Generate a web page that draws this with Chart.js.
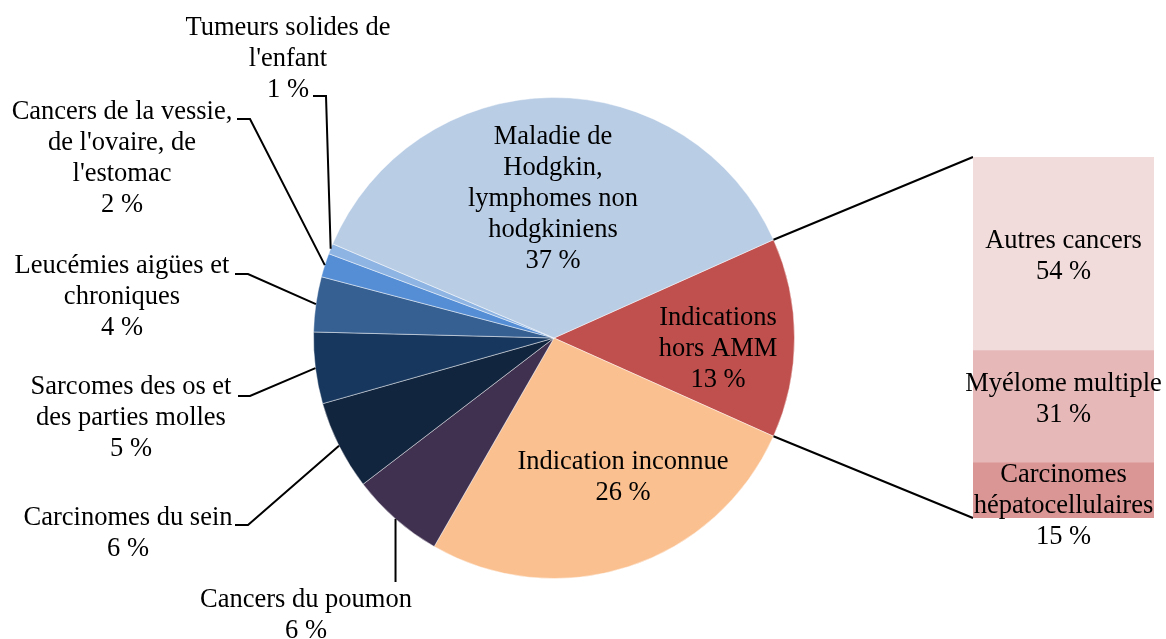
<!DOCTYPE html>
<html>
<head>
<meta charset="utf-8">
<script src="https://cdn.jsdelivr.net/npm/chart.js@4"></script>
<style>
  html, body { margin: 0; padding: 0; background: #fff; }
  #wrap { position: relative; width: 1166px; height: 639px; }
  #pieChart { position: absolute; left: 0; top: 0; }
  #barChart { position: absolute; left: 940px; top: 130px; }
</style>
</head>
<body>
<div id="wrap">
  <canvas id="pieChart" width="1166" height="639"></canvas>
  <canvas id="barChart" width="226" height="430"></canvas>
</div>
<script>
"use strict";

// pie slices, clockwise from the "hors AMM" slice
const pieLabels = [
    ["Indications", "hors AMM"],
    ["Indication inconnue"],
    ["Cancers du poumon"],
    ["Carcinomes du sein"],
    ["Sarcomes des os et", "des parties molles"],
    ["Leucémies aigües et", "chroniques"],
    ["Cancers de la vessie,", "de l'ovaire, de", "l'estomac"],
    ["Tumeurs solides de", "l'enfant"],
    ["Maladie de", "Hodgkin,", "lymphomes non", "hodgkiniens"]
];
const pieValues = [13.4, 26.6, 6.3, 6.0, 4.8, 3.7, 1.6, 0.7, 36.9];
const piePercents = [13, 26, 6, 6, 5, 4, 2, 1, 37];
const pieColors = ["#C0504D", "#FAC090", "#403151", "#12253F", "#17375E",
                   "#376092", "#558ED5", "#8EB4E3", "#B9CDE5"];

// breakdown of "Indications hors AMM", bottom to top
const barLabels = [
    ["Carcinomes", "hépatocellulaires"],
    ["Myélome multiple"],
    ["Autres cancers"]
];
const barValues = [15.3, 31.1, 53.6];
const barPercents = [15, 31, 54];
const barColors = ["#D99694", "#E6B9B8", "#F2DCDB"];

const FONT = '26.5px "Liberation Serif", "Times New Roman", serif';
const LINE = 31;

// where each pie label sits (centre x, first line y) and its leader elbow
// (a null x means "straight down from the slice")
const pieLabelPos = [
    { x: 718, y: 318 },
    { x: 623, y: 462 },
    { x: 306, y: 600, leader: [[null, 582]] },
    { x: 128, y: 518, leader: [[235, 525], [248, 525]] },
    { x: 131, y: 387, leader: [[238, 396], [250, 396]] },
    { x: 122, y: 266, leader: [[235, 274], [248, 274]] },
    { x: 122, y: 112, leader: [[237, 119], [250, 119]] },
    { x: 288, y: 28, leader: [[313, 96], [326, 96]] },
    { x: 553, y: 137 }
];
const barLabelShift = [16, -7, 3];

function drawLines(ctx, lines, x, y) {
    ctx.save();
    ctx.font = FONT;
    ctx.fillStyle = "#000";
    ctx.textAlign = "center";
    ctx.textBaseline = "middle";
    lines.forEach(function (t, i) {
        ctx.fillText(t, x, y + i * LINE);
    });
    ctx.restore();
}

const barChart = new Chart(document.getElementById("barChart"), {
    type: "bar",
    data: {
        labels: [""],
        datasets: barValues.map(function (v, i) {
            return {
                label: barLabels[i].join(" "),
                data: [v],
                backgroundColor: barColors[i],
                borderWidth: 0,
                barPercentage: 1,
                categoryPercentage: 1
            };
        })
    },
    options: {
        responsive: false,
        animation: false,
        devicePixelRatio: 1,
        layout: { padding: { left: 33, right: 12, top: 27, bottom: 42 } },
        plugins: { legend: { display: false }, tooltip: { enabled: false } },
        scales: {
            x: { stacked: true, display: false },
            y: { stacked: true, display: false, min: 0, max: 100 }
        }
    },
    plugins: [{
        id: "barText",
        afterDatasetsDraw: function (chart) {
            const ctx = chart.ctx;
            barValues.forEach(function (v, i) {
                const el = chart.getDatasetMeta(i).data[0];
                const lines = barLabels[i].concat([barPercents[i] + " %"]);
                const mid = (el.y + el.base) / 2 + barLabelShift[i];
                drawLines(ctx, lines, el.x, mid - (lines.length - 1) * LINE / 2);
            });
        }
    }]
});

const barBox = { left: 940, top: 130 };

new Chart(document.getElementById("pieChart"), {
    type: "pie",
    data: {
        labels: pieLabels.map(function (l) { return l.join(" "); }),
        datasets: [{
            data: pieValues,
            backgroundColor: pieColors,
            borderColor: "rgba(255,255,255,0.45)",
            borderWidth: 1
        }]
    },
    options: {
        responsive: false,
        animation: false,
        devicePixelRatio: 1,
        rotation: 90 - pieValues[0] * 3.6 / 2,
        layout: { padding: { left: 313, right: 371, top: 97, bottom: 60 } },
        plugins: { legend: { display: false }, tooltip: { enabled: false } }
    },
    plugins: [{
        id: "pieText",
        afterDatasetsDraw: function (chart) {
            const ctx = chart.ctx;
            const arcs = chart.getDatasetMeta(0).data;

            // connectors to the breakdown bar
            const hors = arcs[0];
            const top = barChart.getDatasetMeta(barValues.length - 1).data[0];
            const bottom = barChart.getDatasetMeta(0).data[0];
            const bx = barBox.left + barChart.chartArea.left;
            ctx.save();
            ctx.strokeStyle = "#000";
            ctx.lineWidth = 2;
            ctx.beginPath();
            ctx.moveTo(hors.x + Math.cos(hors.startAngle) * hors.outerRadius,
                       hors.y + Math.sin(hors.startAngle) * hors.outerRadius);
            ctx.lineTo(bx, barBox.top + top.y);
            ctx.moveTo(hors.x + Math.cos(hors.endAngle) * hors.outerRadius,
                       hors.y + Math.sin(hors.endAngle) * hors.outerRadius);
            ctx.lineTo(bx, barBox.top + bottom.base);
            ctx.stroke();

            // leader lines
            arcs.forEach(function (a, i) {
                const pos = pieLabelPos[i];
                if (!pos.leader) return;
                const mid = (a.startAngle + a.endAngle) / 2;
                const ex = a.x + Math.cos(mid) * a.outerRadius;
                const ey = a.y + Math.sin(mid) * a.outerRadius;
                const pts = pos.leader.map(function (p) {
                    return [p[0] === null ? ex : p[0], p[1]];
                });
                ctx.beginPath();
                ctx.moveTo(pts[0][0], pts[0][1]);
                pts.forEach(function (p) { ctx.lineTo(p[0], p[1]); });
                ctx.lineTo(ex, ey);
                ctx.stroke();
            });
            ctx.restore();

            pieValues.forEach(function (v, i) {
                const pos = pieLabelPos[i];
                drawLines(ctx, pieLabels[i].concat([piePercents[i] + " %"]), pos.x, pos.y);
            });
        }
    }]
});
</script>
</body>
</html>
